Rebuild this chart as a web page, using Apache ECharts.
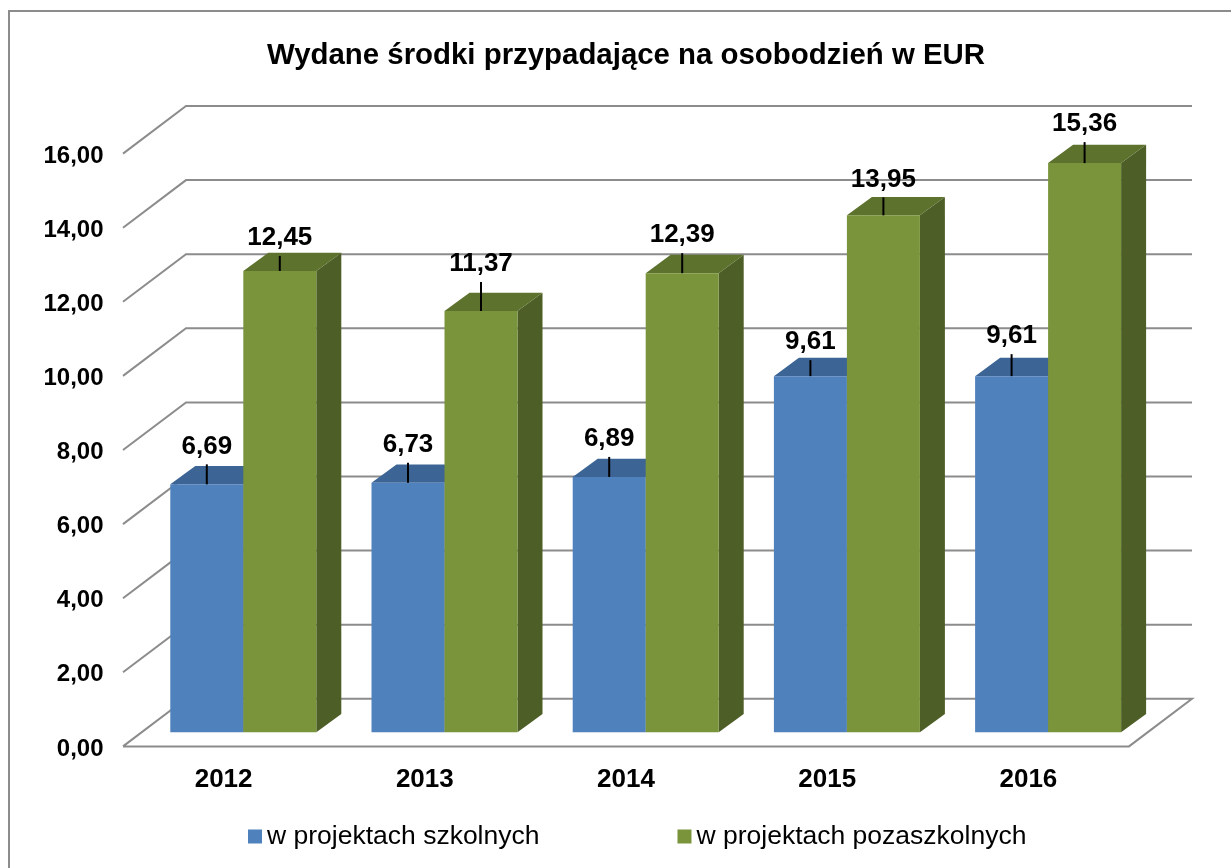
<!DOCTYPE html>
<html>
<head>
<meta charset="utf-8">
<title>Wydane środki</title>
<script src="https://cdn.jsdelivr.net/npm/echarts@6/dist/echarts.min.js"></script>
<style>
  html, body { margin: 0; padding: 0; background: #fff; }
  #chart { width: 1231px; height: 868px; }
</style>
</head>
<body>
<div id="chart"></div>
<script>
var years = ['2012', '2013', '2014', '2015', '2016'];
var szkolne = [6.69, 6.73, 6.89, 9.61, 9.61];
var pozaszkolne = [12.45, 11.37, 12.39, 13.95, 15.36];
var wallTicks = [0, 2, 4, 6, 8, 10, 12, 14, 16];

// długość kresek od etykiety do słupka (px)
var leaderBlue = [20, 20, 20, 16, 22];
var leaderGreen = [15, 29, 20, 18, 21];

var font = '"Liberation Sans", Arial, sans-serif';
var wallDx = 63, wallDy = 47.6;   // przesunięcie tylnej ściany
var baseDx = 19.7, baseDy = 14.2; // słupki stoją trochę za przednią krawędzią
var depthDx = 25, depthDy = 18.3; // głębokość słupka
var barWidth = 73;

function fmt(v) {
  return v.toFixed(2).replace('.', ',');
}

function renderWall(params, api) {
  var cs = params.coordSys;
  var v = api.value(0);
  var y = api.coord([0, v])[1];
  var left = cs.x, right = cs.x + cs.width;
  var pts = [[left, y], [left + wallDx, y - wallDy], [right + wallDx, y - wallDy]];
  if (v === 0) {
    pts = pts.concat([[right, y], [left, y]]);
  }
  return {
    type: 'polyline',
    shape: { points: pts },
    style: { stroke: '#8c8c8c', lineWidth: 2, fill: null }
  };
}

function barRenderer(side, front, top, right, leaders) {
  return function (params, api) {
    var idx = api.value(0);
    var val = api.value(1);
    var p = api.coord([idx, val]);
    var p0 = api.coord([idx, 0]);
    var x0 = p[0] + baseDx + (side < 0 ? -barWidth : 0);
    var x1 = x0 + barWidth;
    var yTop = p[1] - baseDy;
    var yBot = p0[1] - baseDy;
    var xMid = (x0 + x1) / 2;
    var lead = leaders[params.dataIndex];
    return {
      type: 'group',
      children: [
        { type: 'polygon', shape: { points: [[x1, yTop], [x1 + depthDx, yTop - depthDy], [x1 + depthDx, yBot - depthDy], [x1, yBot]] }, style: { fill: right } },
        { type: 'polygon', shape: { points: [[x0, yTop], [x0 + depthDx, yTop - depthDy], [x1 + depthDx, yTop - depthDy], [x1, yTop]] }, style: { fill: top } },
        { type: 'rect', shape: { x: x0, y: yTop, width: barWidth, height: yBot - yTop }, style: { fill: front } },
        { type: 'line', shape: { x1: xMid, y1: yTop, x2: xMid, y2: yTop - lead }, style: { stroke: '#000', lineWidth: 2 } },
        { type: 'text', style: { text: fmt(val), x: xMid, y: yTop - lead - 18, align: 'center', verticalAlign: 'middle', font: 'bold 26px ' + font, fill: '#000' } }
      ]
    };
  };
}

function toPairs(arr) {
  return arr.map(function (v, i) { return [i, v]; });
}

var chart = echarts.init(document.getElementById('chart'));
chart.setOption({
  animation: false,
  backgroundColor: '#fff',
  title: {
    text: 'Wydane środki przypadające na osobodzień w EUR',
    left: 262,
    top: 36,
    textStyle: { fontFamily: font, fontWeight: 'bold', fontSize: 29.4, color: '#000' }
  },
  legend: {
    data: ['w projektach szkolnych', 'w projektach pozaszkolnych'],
    left: 243,
    top: 818,
    icon: 'rect',
    itemWidth: 14,
    itemHeight: 14,
    itemGap: 138,
    textStyle: { fontFamily: font, fontSize: 26.5, color: '#000' }
  },
  grid: { left: 123, top: 153.6, width: 1006, height: 592.8 },
  xAxis: {
    type: 'category',
    data: years,
    axisLine: { show: false },
    axisTick: { show: false },
    axisLabel: { fontFamily: font, fontWeight: 'bold', fontSize: 26, color: '#000', margin: 20 }
  },
  yAxis: {
    type: 'value',
    min: 0,
    max: 16,
    interval: 2,
    axisLine: { show: false },
    axisTick: { show: false },
    splitLine: { show: false },
    axisLabel: { fontFamily: font, fontWeight: 'bold', fontSize: 24, color: '#000', margin: 19.5, verticalAlign: 'top', padding: [-9.5, 0, 0, 0], formatter: fmt }
  },
  series: [
    {
      name: 'wall',
      type: 'custom',
      renderItem: renderWall,
      data: wallTicks.map(function (v) { return [v]; }),
      encode: { y: 0 },
      clip: false,
      silent: true,
      z: 1
    },
    {
      name: 'w projektach szkolnych',
      type: 'custom',
      itemStyle: { color: '#4F81BD' },
      renderItem: barRenderer(-1, '#4F81BD', '#3C6595', '#3A5F8C', leaderBlue),
      data: toPairs(szkolne),
      encode: { x: 0, y: 1 },
      clip: false,
      z: 2
    },
    {
      name: 'w projektach pozaszkolnych',
      type: 'custom',
      itemStyle: { color: '#7A943B' },
      renderItem: barRenderer(1, '#7A943B', '#5C722D', '#4E5E27', leaderGreen),
      data: toPairs(pozaszkolne),
      encode: { x: 0, y: 1 },
      clip: false,
      z: 3
    }
  ],
  graphic: [
    { type: 'rect', shape: { x: 9, y: 11, width: 1400, height: 1000 }, style: { fill: null, stroke: '#8c8c8c', lineWidth: 2 }, silent: true }
  ]
});
</script>
</body>
</html>
